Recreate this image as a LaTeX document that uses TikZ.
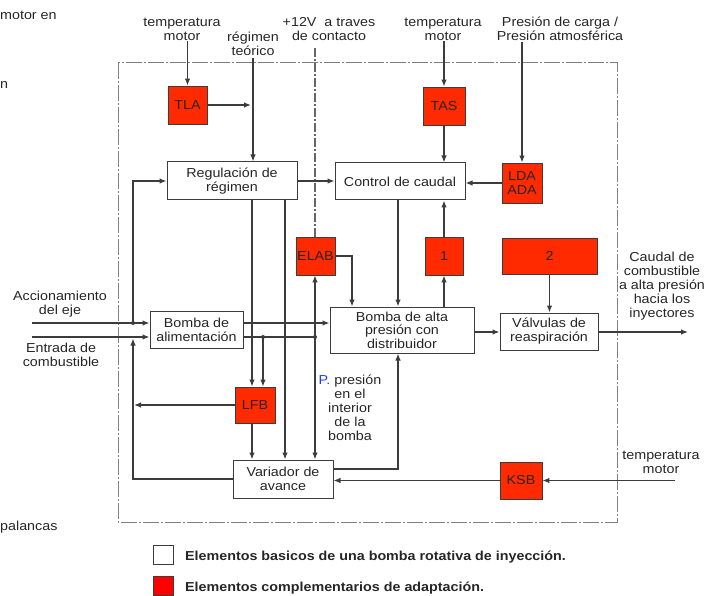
\documentclass[tikz,border=0pt]{standalone}
\usepackage{fontspec}
\setmainfont{Liberation Sans}[FakeStretch=1.1]
\usetikzlibrary{arrows.meta}
\definecolor{lnc}{HTML}{3C3C3C}
\definecolor{txt}{HTML}{262626}
\definecolor{adap}{HTML}{FF2A00}
\definecolor{pblue}{HTML}{1E3CFF}
\tikzset{
  wbox/.style={draw=lnc, line width=1pt, fill=white, inner sep=0pt, align=center},
  rbox/.style={draw=lnc, line width=0.8pt, fill=adap, inner sep=0pt, align=center},
  arr/.style={draw=lnc, line width=1.25pt, -{Latex[length=7pt,width=5.5pt]}},
  plain/.style={draw=lnc, line width=1.25pt},
  frame/.style={draw=gray, line width=1pt, dash pattern=on 16pt off 2pt on 2pt off 2pt},
  dashdot/.style={draw=black!60, line width=1.1pt, dash pattern=on 9pt off 2pt on 2pt off 2pt},
  jdot/.style={circle, fill=lnc, inner sep=0pt, minimum size=4pt},
  lbl/.style={align=center, inner sep=1pt}
}
\begin{document}
\begin{tikzpicture}[x=1pt, y=-1pt, font=\fontsize{13}{14}\selectfont, text=txt]
\useasboundingbox (0,0) rectangle (712,596);
% frame
\draw[frame] (118,63) rectangle (617,522);
% white boxes
\node[wbox, minimum width=130pt, minimum height=38pt] (reg) at (232,181) {Regulación de\\régimen};
\node[wbox, minimum width=130pt, minimum height=37pt] (cdc) at (400,181.5) {Control de caudal};
\node[wbox, minimum width=93pt, minimum height=37pt] (bal) at (196.5,329.5) {Bomba de\\alimentación};
\node[wbox, minimum width=144pt, minimum height=46pt, font=\fontsize{13}{13.5}\selectfont] (bap) at (402,330) {Bomba de alta\\presión con\\distribuidor};
\node[wbox, minimum width=98pt, minimum height=37pt] (val) at (549,331.5) {Válvulas de\\reaspiración};
\node[wbox, minimum width=100pt, minimum height=38pt] (var) at (283,479) {Variador de\\avance};
% red boxes
\node[rbox, minimum width=39pt, minimum height=38pt] (tla) at (187.5,105) {TLA};
\node[rbox, minimum width=42pt, minimum height=38pt] (tas) at (444,106) {TAS};
\node[rbox, minimum width=40pt, minimum height=40pt] (lda) at (522,183) {LDA\\ADA};
\node[rbox, minimum width=39pt, minimum height=38pt] (elab) at (315.5,256) {ELAB};
\node[rbox, minimum width=38pt, minimum height=38pt] (one) at (444,256) {1};
\node[rbox, minimum width=95pt, minimum height=36pt] (two) at (549.5,256) {2};
\node[rbox, minimum width=40pt, minimum height=36pt] (lfb) at (255,405) {LFB};
\node[rbox, minimum width=42pt, minimum height=37pt] (ksb) at (521,480.5) {KSB};
% labels
\node[lbl] (t1) at (182,29) {temperatura\\motor};
\node[lbl] (rt) at (253,44) {régimen\\teórico};
\node[lbl] (v12) at (329,29) {+12V\ \ a traves\\de contacto};
\node[lbl] (t2) at (443,29) {temperatura\\motor};
\node[lbl] (pc) at (560,29) {Presión de carga /\\Presión atmosférica};
\node[lbl] (cau) at (662,286) {Caudal de\\combustible\\a alta presión\\hacia los\\inyectores};
\node[lbl] (acl) at (60,304) {Accionamiento\\del eje};
\node[lbl] (enl) at (61,355) {Entrada de\\combustible};
\node[lbl] (t3) at (661,462) {temperatura\\motor};
\node[lbl] (pl) at (350,408) {{\color{pblue}P.} presión\\en el\\interior\\de la\\bomba};
\node[anchor=west, inner sep=0pt] (s1) at (0,15) {motor en};
\node[anchor=west, inner sep=0pt] (s2) at (0,85) {n};
\node[anchor=west, inner sep=0pt] (s3) at (0,527) {palancas};
% coordinates
\coordinate (xa) at (252,0);
\coordinate (xb) at (285,0);
\coordinate (xc) at (398,0);
\coordinate (xd) at (352,0);
\coordinate (acc) at (32,323);
\coordinate (ent) at (32,337);
\coordinate (j1) at (133,323);
\coordinate (j2) at (133,338.5);
\coordinate (jL) at (263,337);
\coordinate (jP) at (315,337);
\coordinate (y469) at (0,469);
\coordinate (y332) at (0,332);
\coordinate (out) at (688,332);
\coordinate (k0) at (675,480.5);
\coordinate (v0) at (315,48);
\coordinate (r0) at (253,58);
% top inputs
\draw[arr] (t1.south -| tla.north) -- (tla.north);
\draw[arr] (r0) -- (reg.north -| r0);
\draw[arr, shorten >=2pt] (tla.east) -- (tla.east -| r0);
\draw[dashdot] (v0) -- (elab.north -| v0);
\draw[arr] (t2.south -| tas.north) -- (tas.north);
\draw[arr] (pc.south -| lda.north) -- (lda.north);
% control
\draw[arr] (reg.east) -- (cdc.west |- reg.east);
\draw[arr] (tas.south) -- (cdc.north -| tas.south);
\draw[arr] (lda.west) -- (cdc.east |- lda.west);
\draw[arr] (cdc.south -| xc) -- (bap.north -| xc);
\draw[arr] (elab.east) -| (bap.north -| xd);
\draw[arr] (bap.north -| one.south) -- (one.south);
\draw[arr] (one.north) -- (cdc.south -| one.north);
\draw[arr] (two.south) -- (val.north -| two.south);
\draw[arr] (bap.east |- y332) -- (val.west |- y332);
\draw[arr] (val.east |- y332) -- (out);
% left inputs
\draw[arr] (acc) -- (acc -| bal.west);
\draw[arr] (ent) -- (ent -| bal.west);
\draw[arr] (j1) |- (reg.west);
\node[jdot] at (j1) {};
% feed pump outputs
\draw[arr] (bal.east |- acc) -- (bap.west |- acc);
\draw[plain] (bal.east |- ent) -- (jP);
\node[jdot] at (jL) {};
\node[jdot] at (jP) {};
\draw[arr] (jL) -- (lfb.north -| jL);
\draw[arr] (reg.south -| xa) -- (lfb.north -| xa);
\draw[arr] (reg.south -| xb) -- (var.north -| xb);
\draw[arr] (jP) -- (elab.south -| jP);
\draw[arr] (jP) -- (var.north -| jP);
% LFB & advance
\draw[arr] (lfb.south -| xa) -- (var.north -| xa);
\draw[arr, shorten >=1pt] (lfb.west) -- (lfb.west -| j1);
\draw[arr] (var.west) -| (j2);
\draw[arr] (var.east |- y469) -| (bap.south -| xc);
\draw[arr] (ksb.west) -- (ksb.west -| var.east);
\draw[arr] (k0) -- (ksb.east);
% legend
\node[wbox, minimum width=20pt, minimum height=19pt] (lg1) at (163,554.5) {};
\node[anchor=west, inner sep=0pt, font=\fontsize{13}{14}\selectfont\bfseries] (lt1) at (185,557) {Elementos basicos de una bomba rotativa de inyección.};
\node[draw=lnc, line width=0.8pt, fill=red, inner sep=0pt, minimum width=20pt, minimum height=19pt] (lg2) at (163,586) {};
\node[anchor=west, inner sep=0pt, font=\fontsize{13}{14}\selectfont\bfseries] (lt2) at (185,588) {Elementos complementarios de adaptación.};
\end{tikzpicture}
\end{document}
